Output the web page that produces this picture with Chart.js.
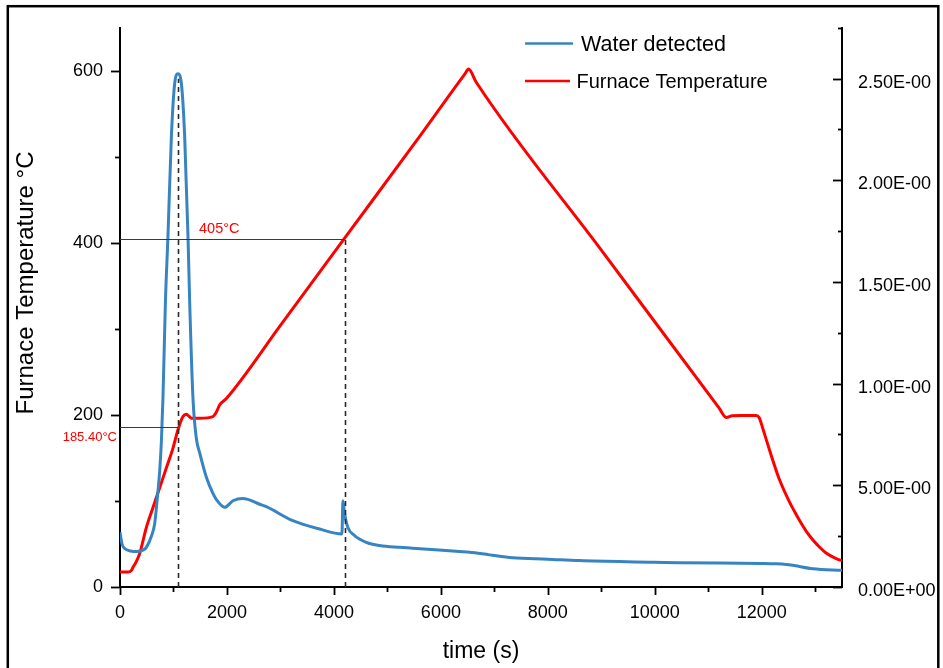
<!DOCTYPE html>
<html><head><meta charset="utf-8">
<script src="https://cdn.jsdelivr.net/npm/chart.js@4/dist/chart.umd.min.js"></script>
<style>html,body{margin:0;padding:0;background:#fff;}canvas{display:block;}</style>
</head><body>
<canvas id="c" width="943" height="668"></canvas>
<script>
// ---- data ----
const seriesNames = ['Water detected', 'Furnace Temperature'];
const xTitle = 'time (s)';
const yTitle = 'Furnace Temperature °C';

const waterTime = [0, 40, 88, 200, 306, 420, 493, 592, 648, 710, 742, 774, 804, 849, 897, 961, 1022, 1084, 1148, 1209, 1271, 1303, 1364, 1428, 1490, 1615, 1738, 1802, 1957, 2112, 2299, 2611, 2736, 3233, 3732, 4150, 4168, 4200, 4261, 4386, 4605, 4854, 5228, 5471, 6474, 6536, 6910, 7340, 7994, 8592, 9994, 10461, 11993, 12268, 12610, 12704, 12953, 13505];
const waterSignal = [0.269, 0.21, 0.189, 0.177, 0.174, 0.180, 0.195, 0.253, 0.311, 0.472, 0.570, 0.717, 0.936, 1.40, 1.728, 2.217, 2.475, 2.524, 2.475, 2.217, 1.728, 1.40, 0.93, 0.73, 0.66, 0.54, 0.46, 0.43, 0.392, 0.424, 0.435, 0.407, 0.395, 0.326, 0.285, 0.261, 0.424, 0.36, 0.293, 0.253, 0.220, 0.204, 0.195, 0.191, 0.172, 0.171, 0.158, 0.144, 0.137, 0.130, 0.122, 0.119, 0.116, 0.114, 0.106, 0.101, 0.090, 0.082];

const tempTime = [0, 144, 213, 243, 300, 368, 493, 617, 742, 867, 991, 1084, 1177, 1241, 1290, 1334, 1490, 1738, 1800, 1863, 1989, 3000, 4200, 5500, 6450, 6517, 6661, 9000, 11200, 11334, 11450, 11614, 11894, 11950, 12018, 12093, 12174, 12237, 12330, 12517, 12610, 12704, 12829, 12953, 13078, 13203, 13390, 13507];
const tempValue = [17.3, 17.3, 19.3, 23, 29, 38.9, 69.2, 92.3, 115.4, 138.5, 161.5, 182.8, 198.1, 200.8, 198.5, 196.2, 196.2, 198.1, 203, 211.6, 219, 304, 405.5, 515, 596.5, 602, 586.7, 391.6, 208.1, 197, 199, 199.3, 199.3, 197, 184.6, 169.5, 153.5, 141.5, 125, 99, 88, 77.5, 65, 55, 46.5, 39.5, 33, 30.5];

const leftTicks = [0, 200, 400, 600];
const xTickValues = [0, 2000, 4000, 6000, 8000, 10000, 12000];
const rightTickLabels = ['0.00E+00', '5.00E-00', '1.00E-00', '1.50E-00', '2.00E-00', '2.50E-00'];

const markerTimes = [1084, 4200];
const markerTemps = [185.4, 405];
const markerLabels = ['185.40°C', '405°C'];
const peakSignal = 2.50;

// ---- chart ----
const FONT = "'Liberation Sans', Arial, sans-serif";
const BLUE = '#3784c3';
const RED = '#ff0000';

const waterPts = waterTime.map((t, i) => ({x: t, y: waterSignal[i]}));
const tempPts = tempTime.map((t, i) => ({x: t, y: tempValue[i]}));

const bgPlugin = {
  id: 'bg',
  beforeDraw(chart) {
    const c = chart.ctx; c.save(); c.fillStyle = '#fff'; c.fillRect(0, 0, chart.width, chart.height); c.restore();
  }
};

const annPlugin = {
  id: 'ann',
  afterDatasetsDraw(chart) {
    const {ctx, chartArea: a, scales: {x, y, yR}} = chart;
    ctx.save();
    ctx.strokeStyle = '#3a3a3a'; ctx.lineWidth = 1.2; ctx.setLineDash([]);
    for (let i = 0; i < markerTimes.length; i++) {
      const py = Math.round(y.getPixelForValue(markerTemps[i])) + 0.5;
      ctx.beginPath(); ctx.moveTo(a.left, py); ctx.lineTo(x.getPixelForValue(markerTimes[i]), py); ctx.stroke();
    }
    ctx.strokeStyle = '#2a2a2a'; ctx.lineWidth = 1.6; ctx.setLineDash([5, 4]);
    const tops = [yR.getPixelForValue(peakSignal), y.getPixelForValue(markerTemps[1])];
    for (let i = 0; i < markerTimes.length; i++) {
      const px = Math.round(x.getPixelForValue(markerTimes[i])) + 0.5;
      ctx.beginPath(); ctx.moveTo(px, a.bottom); ctx.lineTo(px, tops[i]); ctx.stroke();
    }
    ctx.setLineDash([]);
    ctx.fillStyle = RED;
    ctx.textBaseline = 'alphabetic';
    ctx.font = '13px ' + FONT; ctx.textAlign = 'right';
    ctx.fillText(markerLabels[0], a.left - 3, y.getPixelForValue(markerTemps[0]) + 14);
    ctx.font = '14.5px ' + FONT; ctx.textAlign = 'left';
    ctx.fillText(markerLabels[1], a.left + 79, y.getPixelForValue(markerTemps[1]) - 6);
    ctx.restore();
  }
};

const framePlugin = {
  id: 'frame',
  afterDraw(chart) {
    const {ctx, chartArea: a, scales: {x, y, yR}} = chart;
    ctx.save();
    ctx.strokeStyle = '#000'; ctx.lineWidth = 1.8;
    const seg = (x1, y1, x2, y2) => { ctx.beginPath(); ctx.moveTo(x1, y1); ctx.lineTo(x2, y2); ctx.stroke(); };
    for (let v = 0; v <= x.max; v += 1000) {
      const px = Math.round(x.getPixelForValue(v)) + 0.5;
      seg(px, a.bottom, px, a.bottom + (v % 2000 === 0 ? 8 : 5));
    }
    for (let v = 0; v <= y.max; v += 100) {
      const py = Math.round(y.getPixelForValue(v)) + 0.5;
      seg(a.left, py, a.left - (v % 200 === 0 ? 9 : 5), py);
    }
    for (let k = 0; k * 0.25 <= yR.max + 1e-9; k++) {
      const py = Math.round(yR.getPixelForValue(k * 0.25)) + 0.5;
      seg(a.right, py, a.right - (k % 2 === 0 ? 9 : 4), py);
    }
    ctx.fillStyle = '#000';
    ctx.textAlign = 'center'; ctx.textBaseline = 'middle';
    ctx.font = '23px ' + FONT;
    ctx.fillText(xTitle, (a.left + a.right) / 2, 652);
    ctx.save();
    ctx.translate(26, 283); ctx.rotate(-Math.PI / 2);
    ctx.font = '24px ' + FONT;
    ctx.fillText(yTitle, 0, 0);
    ctx.restore();
    ctx.textAlign = 'left'; ctx.textBaseline = 'middle';
    ctx.lineWidth = 2.6;
    ctx.strokeStyle = BLUE; seg(525, 43.5, 573, 43.5);
    ctx.font = '21.5px ' + FONT; ctx.fillText(seriesNames[0], 581, 45);
    ctx.strokeStyle = RED; seg(525, 81, 570, 81);
    ctx.font = '20px ' + FONT; ctx.fillText(seriesNames[1], 576.5, 82);
    ctx.strokeStyle = '#000'; ctx.lineWidth = 2.5;
    ctx.strokeRect(7.8, 6.2, 930.5, 720);
    ctx.restore();
  }
};

const tickFont = {family: FONT, size: 18};

new Chart(document.getElementById('c'), {
  type: 'line',
  data: {
    datasets: [
      {label: seriesNames[0], data: waterPts, yAxisID: 'yR', borderColor: BLUE, borderWidth: 3, pointRadius: 0, cubicInterpolationMode: 'monotone', fill: false},
      {label: seriesNames[1], data: tempPts, yAxisID: 'y', borderColor: RED, borderWidth: 3, pointRadius: 0, cubicInterpolationMode: 'monotone', fill: false, borderJoinStyle: 'round'}
    ]
  },
  options: {
    responsive: false, animation: false, devicePixelRatio: 1,
    layout: {padding: {left: 10, right: 6, top: 24, bottom: 6}},
    plugins: {legend: {display: false}, tooltip: {enabled: false}},
    scales: {
      x: {
        type: 'linear', position: 'bottom', min: 0, max: 13500,
        afterBuildTicks: s => { s.ticks = xTickValues.map(v => ({value: v})); },
        ticks: {font: tickFont, color: '#000', padding: 15, maxRotation: 0, autoSkip: false, callback: v => String(v)},
        grid: {display: false, drawTicks: false},
        border: {display: true, color: '#000', width: 2},
        afterFit: s => { s.height = 75; }
      },
      y: {
        type: 'linear', position: 'left', min: 0, max: 650,
        afterBuildTicks: s => { s.ticks = leftTicks.map(v => ({value: v})); },
        ticks: {font: tickFont, color: '#000', padding: 17, callback: v => String(v)},
        grid: {display: false, drawTicks: false},
        border: {display: true, color: '#000', width: 2},
        afterFit: s => { s.width = 110; }
      },
      yR: {
        type: 'linear', position: 'right', min: 0, max: 2.75,
        afterBuildTicks: s => { s.ticks = rightTickLabels.map((l, i) => ({value: i * 0.5})); },
        ticks: {font: tickFont, color: '#000', padding: 16, labelOffset: 4, callback: (v) => rightTickLabels[Math.round(v / 0.5)]},
        grid: {display: false, drawTicks: false},
        border: {display: true, color: '#000', width: 2},
        afterFit: s => { s.width = 95; }
      }
    }
  },
  plugins: [bgPlugin, annPlugin, framePlugin]
});
</script>
</body></html>
